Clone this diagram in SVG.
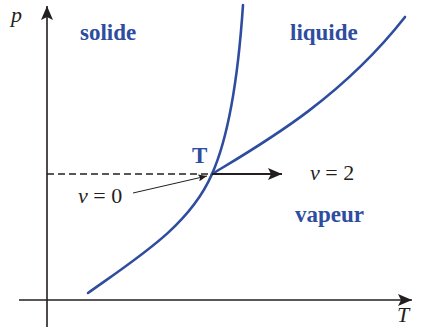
<svg xmlns="http://www.w3.org/2000/svg" width="421" height="327" viewBox="0 0 421 327">
<defs>
<style>
.ax{stroke:#231f20;stroke-width:1.6;fill:none}
.cv{stroke:#2e4d9f;stroke-width:2.6;fill:none;stroke-linecap:round}
.ph{font-family:"Liberation Serif",serif;font-weight:bold;fill:#2e4d9f;font-size:23px}
.lb{font-family:"Liberation Serif",serif;fill:#231f20;font-size:22px}
.it{font-style:italic}
</style>
<marker id="ahb" viewBox="0 0 14 12" refX="14" refY="6" markerWidth="14" markerHeight="12" markerUnits="userSpaceOnUse" orient="auto"><path d="M0,0 L14,6 L0,12 L3,6 Z" fill="#231f20"/></marker>
<marker id="ahs" viewBox="0 0 10 8" refX="10" refY="4" markerWidth="10" markerHeight="7" markerUnits="userSpaceOnUse" orient="auto"><path d="M0,0 L10,4 L0,8 L2,4 Z" fill="#231f20"/></marker>
</defs>
<g id="axes">
<line class="ax" x1="47" y1="327" x2="47" y2="6" marker-end="url(#ahb)"/>
<line class="ax" x1="19" y1="300" x2="412" y2="300" marker-end="url(#ahb)"/>
<text class="lb it" x="11" y="22">p</text>
<text class="lb it" x="397" y="322">T</text>
</g>
<g id="curves">
<path class="cv" d="M88,293 C140,256 190,225 212,174"/>
<path class="cv" d="M212,174 C228,138 238,80 243,5"/>
<path class="cv" d="M212,174 C260,145 340,100 405,17"/>
</g>
<g id="connectors">
<line x1="47" y1="174" x2="212" y2="174" stroke="#231f20" stroke-width="1.3" stroke-dasharray="7,4"/>
<line x1="212" y1="174" x2="282" y2="174" stroke="#231f20" stroke-width="2" marker-end="url(#ahb)"/>
<line x1="133" y1="193" x2="207" y2="176" stroke="#231f20" stroke-width="1" marker-end="url(#ahs)"/>
</g>
<g id="solide"><text class="ph" x="80" y="40">solide</text></g>
<g id="liquide"><text class="ph" x="290" y="40">liquide</text></g>
<g id="vapeur"><text class="ph" x="295" y="222">vapeur</text></g>
<g id="T"><text class="ph" x="192" y="163">T</text></g>
<g id="v2"><text class="lb" x="310" y="180"><tspan class="it">v</tspan> = 2</text></g>
<g id="v0"><text class="lb" x="78" y="203"><tspan class="it">v</tspan> = 0</text></g>
</svg>
